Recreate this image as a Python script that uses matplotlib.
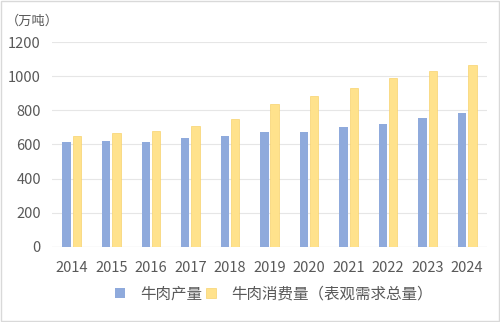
import matplotlib
matplotlib.use("Agg")
import matplotlib.pyplot as plt
import numpy as np
from matplotlib.patches import Rectangle

plt.rcParams["font.family"] = ["Noto Sans CJK SC", "DejaVu Sans"]

# Data (万吨)
years = ["2014", "2015", "2016", "2017", "2018", "2019",
         "2020", "2021", "2022", "2023", "2024"]
production = [616, 619, 617, 637, 649, 671, 672, 700, 718, 755, 782]
consumption = [649, 666, 678, 708, 749, 835, 886, 933, 988, 1031, 1068]
yticks = [0, 200, 400, 600, 800, 1000, 1200]

blue = "#8FAADC"
yellow = "#FFE28C"
text_color = "#595959"

fig = plt.figure(figsize=(5.0, 3.22), dpi=100)
ax = fig.add_axes([0.104, 0.234, 0.870, 0.6346])

x = np.arange(len(years))
w = 0.21
ax.bar(x - 0.13, production, width=w, color=blue, label="牛肉产量", zorder=3)
ax.bar(x + 0.13, consumption, width=w, color=yellow, edgecolor="#F7D36E",
       linewidth=0.5, label="牛肉消费量（表观需求总量）", zorder=3)

ax.set_xlim(-0.5, len(years) - 0.5)
ax.set_ylim(0, 1200)
ax.set_yticks(yticks)
ax.set_xticks(x)
ax.set_xticklabels(years)

ax.grid(axis="y", color="#E6E6E6", linewidth=0.8, zorder=0)
ax.axhline(0, color="#D9D9D9", linewidth=0.8, zorder=1)
for s in ax.spines.values():
    s.set_visible(False)
ax.tick_params(axis="both", length=0, labelsize=10.5, colors=text_color)
ax.tick_params(axis="y", pad=8)
ax.tick_params(axis="x", pad=10)

fig.text(0.012, 0.934, "（万吨）", fontsize=9.5, color=text_color, va="center", ha="left")

handles, labels = ax.get_legend_handles_labels()
leg = fig.legend(handles, labels, loc="center", bbox_to_anchor=(0.548, 0.087), ncol=2,
                 frameon=False, fontsize=11.2, handlelength=0.65, handleheight=0.65,
                 handletextpad=1.0, columnspacing=0.2, labelcolor=text_color)

# light frame around the chart
fig.patches.append(Rectangle((0.001, 0.002), 0.997, 0.995, transform=fig.transFigure,
                             fill=False, edgecolor="#D9D9D9", linewidth=1))

fig.savefig("out.png", dpi=100)
